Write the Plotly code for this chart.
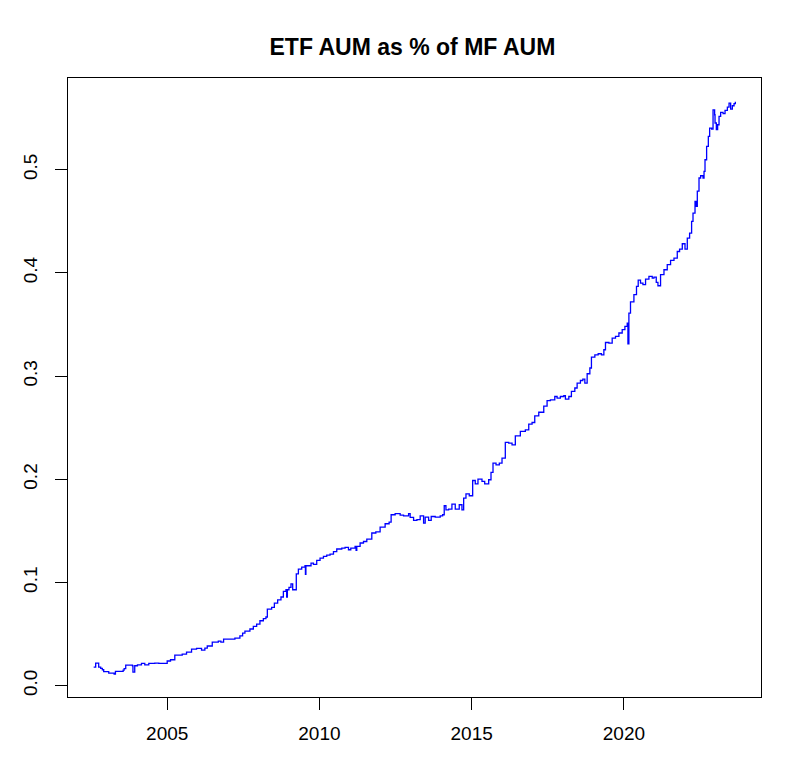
import plotly.graph_objects as go

# Decimal years and ETF AUM as share of MF AUM
years = [
    2002.585, 2002.651, 2002.750, 2002.816, 2002.870, 2002.914, 2003.080, 2003.257, 2003.300, 2003.497,
    2003.553, 2003.586, 2003.638, 2003.859, 2003.875, 2003.934, 2004.023, 2004.155, 2004.263, 2004.395,
    2004.592, 2004.724, 2005.000, 2005.109, 2005.250, 2005.493, 2005.635, 2005.800, 2005.964, 2006.128,
    2006.237, 2006.316, 2006.480, 2006.678, 2006.763, 2006.852, 2007.224, 2007.388, 2007.477, 2007.553,
    2007.717, 2007.829, 2007.938, 2008.046, 2008.158, 2008.243, 2008.289, 2008.431, 2008.520, 2008.628,
    2008.737, 2008.816, 2008.901, 2008.924, 2008.947, 2009.000, 2009.066, 2009.122, 2009.230, 2009.240,
    2009.309, 2009.418, 2009.526, 2009.540, 2009.556, 2009.724, 2009.803, 2009.911, 2010.020, 2010.132,
    2010.240, 2010.349, 2010.461, 2010.569, 2010.734, 2010.842, 2010.954, 2011.030, 2011.171, 2011.204,
    2011.227, 2011.336, 2011.447, 2011.556, 2011.720, 2011.852, 2011.993, 2012.158, 2012.289, 2012.355,
    2012.487, 2012.651, 2012.763, 2012.928, 2012.980, 2013.092, 2013.201, 2013.309, 2013.421, 2013.474,
    2013.586, 2013.671, 2013.803, 2013.967, 2014.046, 2014.099, 2014.155, 2014.243, 2014.352, 2014.461,
    2014.592, 2014.681, 2014.737, 2014.813, 2014.921, 2015.033, 2015.118, 2015.207, 2015.339, 2015.428,
    2015.559, 2015.635, 2015.701, 2015.800, 2015.908, 2015.997, 2016.105, 2016.217, 2016.326, 2016.434,
    2016.599, 2016.763, 2016.875, 2016.984, 2017.072, 2017.204, 2017.368, 2017.477, 2017.586, 2017.730,
    2017.806, 2017.914, 2018.026, 2018.079, 2018.191, 2018.276, 2018.388, 2018.464, 2018.572, 2018.651,
    2018.717, 2018.793, 2018.882, 2018.934, 2019.046, 2019.155, 2019.263, 2019.342, 2019.395, 2019.507,
    2019.615, 2019.724, 2019.836, 2019.944, 2020.033, 2020.109, 2020.132, 2020.164, 2020.217, 2020.329,
    2020.414, 2020.470, 2020.546, 2020.625, 2020.711, 2020.822, 2020.931, 2020.987, 2021.063, 2021.118,
    2021.204, 2021.316, 2021.424, 2021.533, 2021.645, 2021.753, 2021.829, 2021.918, 2022.007, 2022.082,
    2022.158, 2022.224, 2022.270, 2022.336, 2022.379, 2022.411, 2022.467, 2022.520, 2022.599, 2022.632,
    2022.664, 2022.717, 2022.773, 2022.816, 2022.882, 2022.928, 2022.980, 2022.993, 2023.036, 2023.079,
    2023.125, 2023.178, 2023.257, 2023.322, 2023.398, 2023.454, 2023.507, 2023.563, 2023.618, 2023.660,
]
etf_share = [
    0.0181, 0.0220, 0.0181, 0.0168, 0.0155, 0.0136, 0.0123, 0.0113, 0.0139, 0.0139,
    0.0152, 0.0165, 0.0200, 0.0194, 0.0133, 0.0194, 0.0203, 0.0216, 0.0203, 0.0216,
    0.0220, 0.0216, 0.0240, 0.0252, 0.0297, 0.0307, 0.0326, 0.0355, 0.0362, 0.0346,
    0.0365, 0.0385, 0.0423, 0.0433, 0.0423, 0.0452, 0.0462, 0.0484, 0.0510, 0.0530,
    0.0550, 0.0575, 0.0598, 0.0630, 0.0650, 0.0666, 0.0743, 0.0759, 0.0800, 0.0833,
    0.0860, 0.0914, 0.0930, 0.0860, 0.0930, 0.0953, 0.0988, 0.0930, 0.0930, 0.1085,
    0.1130, 0.1150, 0.1163, 0.1080, 0.1163, 0.1189, 0.1176, 0.1214, 0.1237, 0.1253,
    0.1266, 0.1276, 0.1300, 0.1325, 0.1334, 0.1340, 0.1318, 0.1334, 0.1350, 0.1311,
    0.1350, 0.1383, 0.1398, 0.1421, 0.1480, 0.1492, 0.1538, 0.1570, 0.1586, 0.1657,
    0.1667, 0.1654, 0.1647, 0.1667, 0.1631, 0.1602, 0.1609, 0.1647, 0.1576, 0.1634,
    0.1602, 0.1640, 0.1634, 0.1647, 0.1657, 0.1744, 0.1705, 0.1712, 0.1760, 0.1712,
    0.1754, 0.1705, 0.1819, 0.1860, 0.1841, 0.1989, 0.1957, 0.2003, 0.1980, 0.1957,
    0.1996, 0.2067, 0.2158, 0.2141, 0.2158, 0.2206, 0.2358, 0.2351, 0.2335, 0.2422,
    0.2464, 0.2480, 0.2535, 0.2551, 0.2616, 0.2650, 0.2710, 0.2762, 0.2771, 0.2803,
    0.2788, 0.2803, 0.2810, 0.2778, 0.2803, 0.2852, 0.2885, 0.2933, 0.2958, 0.2972,
    0.2933, 0.3023, 0.3079, 0.3185, 0.3207, 0.3217, 0.3207, 0.3256, 0.3326, 0.3320,
    0.3369, 0.3385, 0.3418, 0.3450, 0.3482, 0.3514, 0.3314, 0.3611, 0.3720, 0.3789,
    0.3869, 0.3930, 0.3902, 0.3886, 0.3940, 0.3966, 0.3950, 0.3960, 0.3908, 0.3876,
    0.3983, 0.4031, 0.4080, 0.4121, 0.4144, 0.4208, 0.4231, 0.4283, 0.4231, 0.4338,
    0.4386, 0.4499, 0.4580, 0.4693, 0.4645, 0.4793, 0.4920, 0.4942, 0.4920, 0.4984,
    0.5097, 0.5226, 0.5323, 0.5404, 0.5394, 0.5581, 0.5533, 0.5453, 0.5388, 0.5436,
    0.5517, 0.5555, 0.5543, 0.5575, 0.5607, 0.5645, 0.5588, 0.5620, 0.5640, 0.5660,
]

x_tick_vals = [2005, 2010, 2015, 2020]
x_tick_text = ["2005", "2010", "2015", "2020"]
y_tick_vals = [0.0, 0.1, 0.2, 0.3, 0.4, 0.5]
y_tick_text = ["0.0", "0.1", "0.2", "0.3", "0.4", "0.5"]
title_text = "ETF AUM as % of MF AUM"

FONT = "Liberation Sans, Arial, sans-serif"
OFF = 8  # page body margin offset

fig = go.Figure()
fig.add_trace(go.Scatter(
    x=years, y=etf_share, mode="lines",
    line=dict(color="#0000FF", width=1.3, shape="hv"),
    showlegend=False, hoverinfo="x+y",
))

fig.update_layout(
    width=788 - OFF, height=768 - OFF,
    margin=dict(l=66 - OFF, r=27, t=78 - OFF, b=71),
    paper_bgcolor="white", plot_bgcolor="white",
    title=dict(text="<b>" + title_text + "</b>", x=0.497, xref="paper", xanchor="center",
               y=1 - (47 - OFF) / (768 - OFF), yref="container", yanchor="middle",
               font=dict(family=FONT, size=23, color="black")),
    font=dict(family=FONT, size=19, color="black"),
)
fig.update_xaxes(
    range=[2001.742, 2024.503], tickmode="array", tickvals=x_tick_vals, ticktext=x_tick_text,
    showgrid=False, zeroline=False, showline=True, linecolor="black", linewidth=1, mirror=True,
    ticks="outside", ticklen=12, tickwidth=1, tickcolor="black", ticklabelstandoff=7,
    tickfont=dict(family=FONT, size=19, color="black"),
)
fig.update_yaxes(
    range=[-0.0109, 0.5889], tickmode="array", tickvals=y_tick_vals, ticktext=y_tick_text,
    showgrid=False, zeroline=False, showline=True, linecolor="black", linewidth=1, mirror=True,
    ticks="outside", ticklen=12, tickwidth=1, tickcolor="black", tickangle=-90, ticklabelstandoff=10,
    tickfont=dict(family=FONT, size=19, color="black"),
)

fig.write_html("out.html")
